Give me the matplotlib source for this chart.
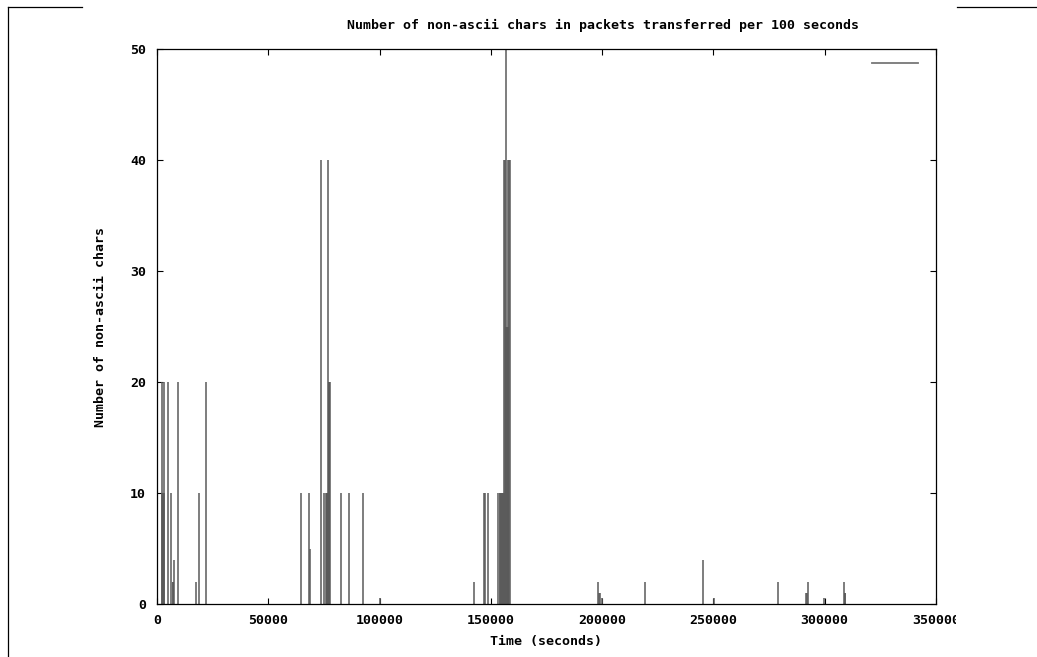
import matplotlib
matplotlib.use("Agg")
import matplotlib.pyplot as plt
from matplotlib.lines import Line2D
from matplotlib.patches import Rectangle

# seconds since start, non-ascii chars counted in that 100 s bin
times = [
    2200, 2400, 2600, 2800, 3000, 3300, 4900, 6400, 7200, 7400, 7600, 9400,
    17500, 18700, 21900,
    64700, 68500, 68700, 73800, 75200, 75900, 76200, 76500, 76900, 77100,
    77400, 77700, 82500, 86200, 92500, 100000,
    142500, 146800, 147400, 148600, 153100, 153900, 154200, 154500, 154800,
    155100, 155400, 155700, 156000, 156300, 156700, 156900, 157200, 157500,
    157800, 157900, 158200, 158500,
    198200, 198500, 198900, 200000, 219300, 245500, 250300, 278800,
    291600, 291900, 292300, 299800, 308500, 308900, 309200,
]
counts = [
    20, 10, 10, 10, 10, 20, 20, 10, 2, 2, 4, 20,
    2, 10, 20,
    10, 10, 5, 40, 10, 10, 10, 10, 40, 20,
    20, 20, 10, 10, 10, 0.5,
    2, 10, 10, 10, 10, 10, 10, 10, 10,
    10, 10, 10, 40, 40, 50, 25, 25, 25,
    25, 40, 40, 40,
    2, 1, 1, 0.5, 2, 4, 0.5, 2,
    1, 1, 2, 0.5, 2, 1, 1,
]
xticks = [0, 50000, 100000, 150000, 200000, 250000, 300000, 350000]
yticks = [0, 10, 20, 30, 40, 50]

W, H = 1037, 657
font = {"family": "DejaVu Sans Mono", "weight": "bold", "size": 9.5}
line_col = "#5a5a5a"

fig = plt.figure(figsize=(W / 100, H / 100), dpi=100)
ax = fig.add_axes([157 / W, (H - 604) / H, 779 / W, 555 / H])

ax.vlines(times, 0, counts, color=line_col, linewidth=1.1)

ax.set_xlim(0, 350000)
ax.set_ylim(0, 50)
ax.set_xticks(xticks)
ax.set_yticks(yticks)
ax.set_xticklabels([str(v) for v in xticks], fontdict=font)
ax.set_yticklabels([str(v) for v in yticks], fontdict=font)
ax.tick_params(direction="in", length=4.5, width=0.8, top=True, right=True,
               color="black")
ax.tick_params(axis="x", pad=7)
ax.tick_params(axis="y", pad=8)
for s in ax.spines.values():
    s.set_linewidth(0.9)
    s.set_color("black")

ax.set_xlabel("Time (seconds)", fontdict=font, labelpad=6)
fig.text(101 / W, 1 - 327 / H, "Number of non-ascii chars", fontdict=font,
         rotation=90, ha="center", va="center")
fig.text(603 / W, 1 - 25 / H,
         "Number of non-ascii chars in packets transferred per 100 seconds",
         fontdict=font, ha="center", va="center")

# key with an empty title, like gnuplot's default
key_line = Line2D([], [], color="#777777", linewidth=1.3)
ax.legend([key_line], [""], loc="center left", frameon=False,
          bbox_to_anchor=((872 - 157) / 779, (604 - 64) / 555),
          borderaxespad=0, borderpad=0, handlelength=3.5, handletextpad=0,
          prop={"family": "DejaVu Sans Mono", "size": 9.5})

# the canvas ends partway through the last x label
fig.add_artist(Rectangle((956 / W, 1 - 640 / H), (W - 956) / W, 35 / H,
                         transform=fig.transFigure, facecolor="white",
                         edgecolor="none", zorder=10))

# page frame pieces around the chart
frame = [
    ([8, 82], [7, 7]),
    ([8, 8], [7, H]),
    ([957, W], [7, 7]),
]
for xs, ys in frame:
    fig.add_artist(Line2D([x / W for x in xs], [1 - y / H for y in ys],
                          transform=fig.transFigure, color="black",
                          linewidth=0.9))

plt.savefig("out.png", dpi=100)
